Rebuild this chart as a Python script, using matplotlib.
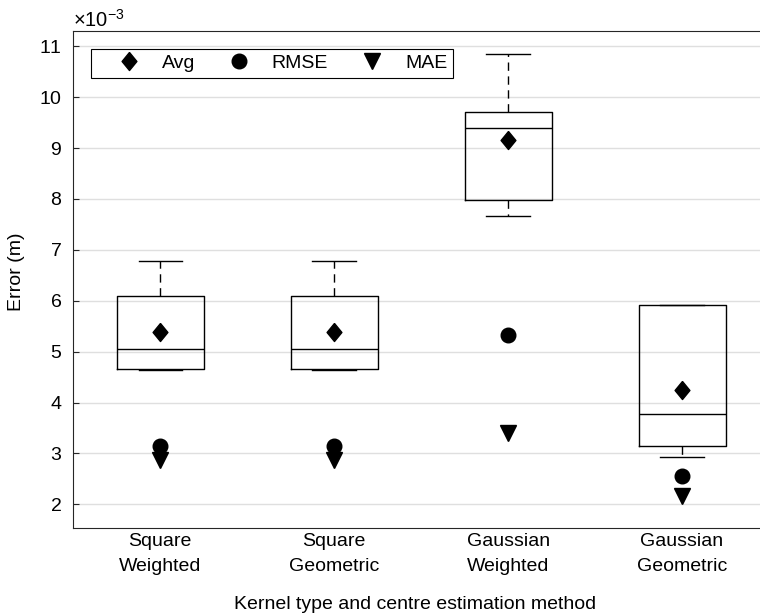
import numpy as np
import matplotlib
matplotlib.use('Agg')
import matplotlib.pyplot as plt
from matplotlib.lines import Line2D

plt.rcParams['font.family'] = ['Liberation Sans', 'DejaVu Sans']
plt.rcParams['mathtext.fontset'] = 'custom'
plt.rcParams['mathtext.rm'] = 'Liberation Sans'
plt.rcParams['mathtext.it'] = 'Liberation Sans'
plt.rcParams['mathtext.bf'] = 'Liberation Sans:bold'

# kernel / centre estimation methods
labels = ['Square\nWeighted', 'Square\nGeometric', 'Gaussian\nWeighted', 'Gaussian\nGeometric']

# box stats (units of 1e-3 m)
q1 = [4.65, 4.65, 7.97, 3.14]
med = [5.05, 5.05, 9.39, 3.77]
q3 = [6.10, 6.10, 9.70, 5.91]
whislo = [4.63, 4.63, 7.67, 2.93]
whishi = [6.78, 6.78, 10.85, 5.91]

# summary errors
avg = [5.38, 5.38, 9.16, 4.24]
rmse = [3.14, 3.14, 5.33, 2.55]
mae = [2.88, 2.88, 3.40, 2.16]

scale = 1e-3
positions = np.arange(1, len(labels) + 1)

stats = []
for i in range(len(labels)):
    stats.append(dict(med=med[i] * scale, q1=q1[i] * scale, q3=q3[i] * scale,
                      whislo=whislo[i] * scale, whishi=whishi[i] * scale, fliers=[]))

# matlab-like diamond (a bit wider than mpl's thin diamond)
diamond = [(0, 1), (0.82, 0), (0, -1), (-0.82, 0), (0, 1)]

fig = plt.figure(figsize=(7.6, 6.15), dpi=100)
ax = fig.add_axes([73.3 / 760, (615 - 527.7) / 615, (769 - 73.3) / 760, (527.7 - 31) / 615])

ax.bxp(stats, positions=positions, widths=0.5, capwidths=0.25, showfliers=False,
       boxprops=dict(color='k', lw=1.0),
       whiskerprops=dict(color='k', lw=1.0, ls=(0, (6, 4))),
       capprops=dict(color='k', lw=1.0),
       medianprops=dict(color='k', lw=1.0))

ax.plot(positions, np.array(avg) * scale, ls='none', marker=diamond, ms=13, color='k')
ax.plot(positions, np.array(rmse) * scale, ls='none', marker='o', ms=10.5, color='k')
ax.plot(positions, np.array(mae) * scale, ls='none', marker='v', ms=11, color='k')

ax.set_xlim(0.5, 4.5)
ax.set_ylim(1.54e-3, 11.30e-3)
ax.set_yticks(np.arange(2, 12) * scale)
ax.ticklabel_format(axis='y', style='sci', scilimits=(-3, -3), useMathText=True)
ax.yaxis.get_offset_text().set_fontsize(14.5)

ax.set_xticks(positions)
ax.set_xticklabels(labels, fontsize=14, linespacing=1.6)
ax.tick_params(axis='x', length=0, pad=4)
ax.tick_params(axis='y', direction='in', length=4, width=0.8, pad=8, labelsize=14, color='#262626')

ax.yaxis.grid(True, color='#dfdfdf', lw=1)
ax.set_axisbelow(True)
for s in ax.spines.values():
    s.set_color('#262626')
    s.set_linewidth(0.8)

ax.set_ylabel('Error (m)', fontsize=14)
ax.yaxis.set_label_coords(-0.07, 0.515)
ax.set_xlabel('Kernel type and centre estimation method', fontsize=14)
ax.xaxis.set_label_coords(0.491, -0.137)

handles = [Line2D([], [], ls='none', marker=diamond, ms=13, color='k'),
           Line2D([], [], ls='none', marker='o', ms=10.5, color='k'),
           Line2D([], [], ls='none', marker='v', ms=11, color='k')]
leg = ax.legend(handles, ['Avg', 'RMSE', 'MAE'], ncol=3, loc='upper left',
                bbox_to_anchor=(0.025, 0.9644), borderaxespad=0, fancybox=False,
                edgecolor='k', framealpha=1, handlelength=3.3, handletextpad=0.05,
                columnspacing=0.6, borderpad=0.3, fontsize=14)
leg.get_frame().set_linewidth(0.8)

fig.savefig('out.png', dpi=100)
